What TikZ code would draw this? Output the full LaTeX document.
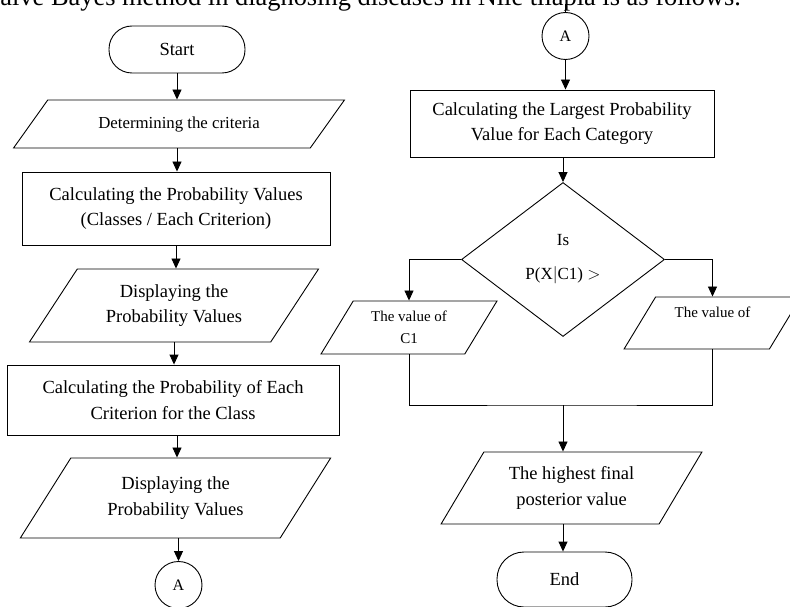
\documentclass[tikz,border=0pt]{standalone}
\usepackage{fontspec}
\setmainfont{Liberation Serif}
\usetikzlibrary{shapes.geometric}
\usetikzlibrary{arrows.meta}

\begin{document}
\begin{tikzpicture}[x=1pt,y=-1pt,line width=0.9pt]
\tikzset{terminal/.style = {shape=rectangle,draw,rounded corners=23pt,minimum width=136pt,inner sep=0pt,font=\fontsize{18.5}{24}\selectfont}}
\tikzset{process/.style = {shape=rectangle,draw,align=center,inner sep=0pt,font=\fontsize{18.5}{25.5}\selectfont}}
\tikzset{io/.style 2 args = {shape=trapezium,trapezium left angle=#1,trapezium right angle=#2,trapezium stretches=true,draw,align=center,inner sep=0pt,font=\fontsize{18.5}{25.5}\selectfont}}
\tikzset{decision/.style = {shape=diamond,draw,align=center,minimum width=203pt,minimum height=154pt,inner sep=0pt,font=\fontsize{17}{22}\selectfont}}
\tikzset{connector/.style = {shape=circle,draw,minimum size=47pt,inner sep=0pt,font=\fontsize{16}{18}\selectfont}}
\tikzset{edge/.style = {-{Triangle[length=10pt,width=9pt]}}}
\useasboundingbox (0,0) rectangle (790,607);

\node[anchor=base west,inner sep=0pt,font=\fontsize{26.4}{30}\selectfont] (intro) at (0,6) {aive Bayes method in diagnosing diseases in Nile tilapia is as follows.};

% left column
\node[terminal,minimum height=47pt] (start) at (177,49.5) {Start};
\node[io={36}{144},minimum width=331pt,minimum height=48pt,font=\fontsize{16.8}{22}\selectfont] (crit) at (179,124) {Determining the criteria};
\node[process,minimum width=308pt,minimum height=73pt] (probval) at (176,208.5) {Calculating the Probability Values\\(Classes / Each Criterion)};
\node[io={51.5}{128.5},minimum width=290pt,minimum height=73pt] (showval) at (174,305.5) {Displaying the\\Probability Values};
\node[process,minimum width=332pt,minimum height=70pt] (probcrit) at (173,400) {Calculating the Probability of Each\\Criterion for the Class};
\node[io={52.2}{127.8},minimum width=311pt,minimum height=80pt] (showcrit) at (175.5,498) {Displaying the\\Probability Values};
\node[connector] (outA) at (178.5,585) {A};

% right column
\node[connector] (inA) at (565.5,36) {A};
\coordinate (above) at (565.5,4);
\node[process,minimum width=304pt,minimum height=67pt] (largest) at (562,123.5) {Calculating the Largest Probability\\Value for Each Category};
\node[decision] (test) at (563,259.5) {Is\\[12pt]P(X$|$C1) $>$};
\node[io={55.8}{124.2},minimum width=176pt,minimum height=53pt,font=\fontsize{15}{21.5}\selectfont] (valone) at (409,327.5) {The value of\\C1};
\node[io={56.8}{123.2},minimum width=177pt,minimum height=52pt,font=\fontsize{15}{21.5}\selectfont] (valtwo) at (712.5,323) {The value of\\\mbox{}};
\coordinate (merge) at (563,405);
\node[io={54.2}{125.8},minimum width=261pt,minimum height=72pt] (final) at (571.5,488) {The highest final\\posterior value};
\node[terminal,minimum width=135pt,minimum height=55pt,rounded corners=27pt] (end) at (564.5,579.5) {End};

\draw[edge] (start.south) -- (start.south |- crit.north);
\draw[edge] (start.south |- crit.south) -- (start.south |- probval.north);
\draw[edge] (probval.south) -- (probval.south |- showval.north);
\draw[edge] (showval.south) -- (showval.south |- probcrit.north);
\draw[edge] (start.south |- probcrit.south) -- (start.south |- showcrit.north);
\draw[edge] (outA |- showcrit.south) -- (outA.north);

\draw (inA.north) -- (above);
\draw[edge] (inA.south) -- (inA.south |- largest.north);
\draw[edge] (test.north |- largest.south) -- (test.north);
\draw[edge] (test.west) -| (valone.north);
\draw[edge] (test.east) -| (valtwo.north);
\draw (valone.south) |- (merge) -| (valtwo.south);
\draw[edge] (merge) -- (merge |- final.north);
\draw[edge] (merge |- final.south) -- (merge |- end.north);
\end{tikzpicture}
\end{document}
